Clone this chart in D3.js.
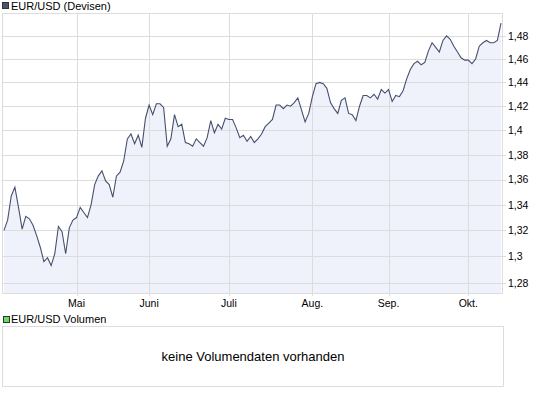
<!DOCTYPE html>
<html>
<head>
<meta charset="utf-8">
<script src="https://cdn.jsdelivr.net/npm/d3@7"></script>
<style>
  body { margin: 0; background: #fff; }
  text { font-family: "Liberation Sans", Arial, sans-serif; fill: #000; }
</style>
</head>
<body>
<svg id="drawing_region"></svg>
<script>
// EUR/USD daily close, one value per trading day (Apr - Oct)
const values = [
  1.320, 1.328, 1.347, 1.354, 1.338, 1.321, 1.331, 1.329, 1.324, 1.316,
  1.307, 1.296, 1.299, 1.293, 1.302, 1.323, 1.319, 1.302, 1.322, 1.328,
  1.330, 1.338, 1.334, 1.330, 1.340, 1.356, 1.363, 1.367, 1.359, 1.356,
  1.346, 1.363, 1.366, 1.375, 1.393, 1.397, 1.389, 1.396, 1.386, 1.410,
  1.421, 1.413, 1.422, 1.422, 1.419, 1.387, 1.393, 1.413, 1.403, 1.405,
  1.390, 1.389, 1.387, 1.393, 1.390, 1.387, 1.394, 1.408, 1.398, 1.405,
  1.401, 1.410, 1.409, 1.409, 1.402, 1.394, 1.396, 1.391, 1.395, 1.390,
  1.393, 1.397, 1.403, 1.406, 1.409, 1.421, 1.421, 1.418, 1.421, 1.420,
  1.423, 1.427, 1.417, 1.407, 1.414, 1.428, 1.439, 1.440, 1.439, 1.435,
  1.423, 1.418, 1.414, 1.425, 1.427, 1.414, 1.413, 1.408, 1.420, 1.429,
  1.429, 1.427, 1.430, 1.426, 1.434, 1.431, 1.434, 1.424, 1.429, 1.428,
  1.433, 1.443, 1.451, 1.456, 1.458, 1.455, 1.457, 1.467, 1.474, 1.470,
  1.466, 1.476, 1.480, 1.477, 1.471, 1.466, 1.461, 1.459, 1.459, 1.456,
  1.460, 1.471, 1.474, 1.476, 1.474, 1.474, 1.476, 1.491
];

// month labels and the index of the first trading day of each month
const months = ["Mai", "Juni", "Juli", "Aug.", "Sep.", "Okt."];
const monthStart = [20, 40, 62, 85, 106, 128];

const yTicks = [1.28, 1.30, 1.32, 1.34, 1.36, 1.38, 1.40, 1.42, 1.44, 1.46, 1.48];
const yDomain = [1.2723, 1.50];

const priceLegend = "EUR/USD (Devisen)";
const volumeLegend = "EUR/USD Volumen";
const volumeMessage = "keine Volumendaten vorhanden";

class PriceChart {

    constructor( config, data ) {
        this.config = config;
        this.data = data;
        this.init();
    }

    init() {
        let self = this;

        self.svg = d3.select( self.config.parent )
            .attr('width', self.config.width)
            .attr('height', self.config.height);

        self.chart = self.svg.append('g')
            .attr('transform', `translate(${self.config.margin.left}, ${self.config.margin.top})`);

        self.inner_width = self.config.plot_width;
        self.inner_height = self.config.plot_height;

        self.xscale = d3.scaleLinear()
            .domain([0, self.data.length - 1])
            .range([1, self.inner_width - 2]);

        self.yscale = d3.scaleLog()
            .domain(yDomain)
            .range([self.inner_height, 0]);
    }

    render() {
        let self = this;
        const grid = '#dcdcdc';

        // area under the line
        const area = d3.area()
            .x( (d, i) => self.xscale(i) )
            .y0( self.inner_height )
            .y1( d => self.yscale(d) );

        self.chart.append('path')
            .datum(self.data)
            .attr('d', area)
            .attr('fill', '#eff2fb');

        // horizontal grid + right ticks
        self.chart.append('g')
            .selectAll('line')
            .data(yTicks)
            .join('line')
            .attr('x1', 0)
            .attr('x2', self.inner_width + 3)
            .attr('y1', d => Math.round(self.yscale(d)) + 0.5)
            .attr('y2', d => Math.round(self.yscale(d)) + 0.5)
            .attr('stroke', grid);

        self.chart.append('g')
            .selectAll('text')
            .data(yTicks)
            .join('text')
            .attr('x', self.inner_width + 5)
            .attr('y', d => self.yscale(d))
            .attr('dy', '0.36em')
            .style('font-size', '10.5px')
            .text( d => String(+d.toFixed(2)).replace('.', ',') );

        // vertical grid + bottom ticks
        self.chart.append('g')
            .selectAll('line')
            .data(monthStart)
            .join('line')
            .attr('x1', d => Math.round(self.xscale(d)) + 0.5)
            .attr('x2', d => Math.round(self.xscale(d)) + 0.5)
            .attr('y1', 0)
            .attr('y2', self.inner_height + 3)
            .attr('stroke', grid);

        self.chart.append('g')
            .selectAll('text')
            .data(monthStart)
            .join('text')
            .attr('x', d => self.xscale(d))
            .attr('y', self.inner_height + 14)
            .attr('text-anchor', 'middle')
            .style('font-size', '10.5px')
            .text( (d, i) => months[i] );

        // frame
        self.chart.append('rect')
            .attr('x', -0.5)
            .attr('y', 0.5)
            .attr('width', self.inner_width)
            .attr('height', self.inner_height)
            .attr('fill', 'none')
            .attr('stroke', grid);

        // price line
        const line = d3.line()
            .x( (d, i) => self.xscale(i) )
            .y( d => self.yscale(d) );

        self.chart.append('path')
            .datum(self.data)
            .attr('d', line)
            .attr('fill', 'none')
            .attr('stroke', '#46506e')
            .attr('stroke-width', 1.1);

        // legends
        self.legend(2.5, 2.5, '#4a5470', priceLegend, 10);
        self.legend(3.5, 316.5, '#66dd66', volumeLegend, 323);

        // empty volume panel
        self.svg.append('rect')
            .attr('x', 2.5)
            .attr('y', 326.5)
            .attr('width', 501)
            .attr('height', 60)
            .attr('fill', 'none')
            .attr('stroke', grid);

        self.svg.append('text')
            .attr('x', 253)
            .attr('y', 361)
            .attr('text-anchor', 'middle')
            .style('font-size', '13px')
            .text(volumeMessage);
    }

    legend( x, y, color, label, baseline ) {
        let self = this;
        self.svg.append('rect')
            .attr('x', x)
            .attr('y', y)
            .attr('width', 6)
            .attr('height', 6)
            .attr('fill', color)
            .attr('stroke', '#333');
        self.svg.append('text')
            .attr('x', 11)
            .attr('y', baseline)
            .style('font-size', '11px')
            .text(label);
    }
}

const config = {
    parent: '#drawing_region',
    width: 545,
    height: 395,
    margin: {top: 13, left: 3},
    plot_width: 500,
    plot_height: 280
};

const price_chart = new PriceChart( config, values );
price_chart.render();
</script>
</body>
</html>
